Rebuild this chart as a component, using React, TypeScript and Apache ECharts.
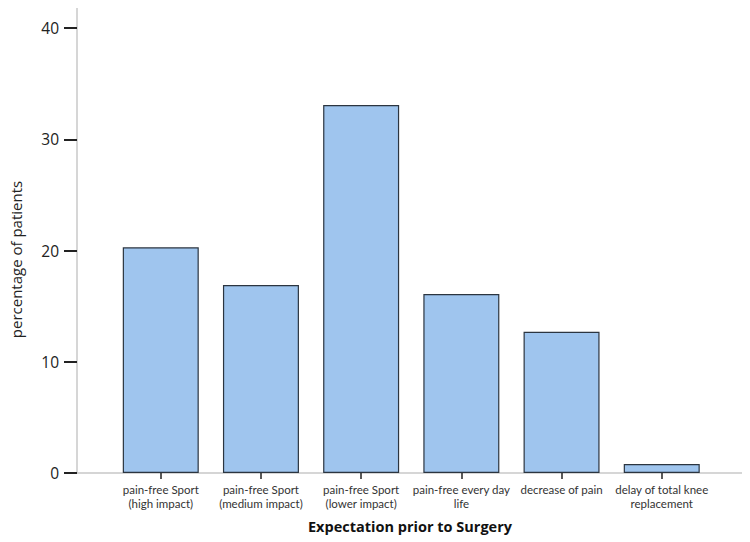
import React, { useEffect, useRef } from "react";
import * as echarts from "echarts";

const categories = [
  "pain-free Sport\n(high impact)",
  "pain-free Sport\n(medium impact)",
  "pain-free Sport\n(lower impact)",
  "pain-free every day\nlife",
  "decrease of pain",
  "delay of total knee\nreplacement",
];
const percentages = [20.3, 16.9, 33.1, 16.1, 12.7, 0.8];
const yTicks = [0, 10, 20, 30, 40];

export default function App() {
  const ref = useRef<HTMLDivElement>(null);
  useEffect(() => {
    if (!ref.current) return;
    const chart = echarts.init(ref.current, null, { renderer: "svg" });
    const catIdx = categories.map((_, i) => i);
    chart.setOption({
      animation: false,
      backgroundColor: "#ffffff",
      grid: { left: 75, right: 7, top: 6, bottom: 69, containLabel: false },
      xAxis: {
        type: "value",
        min: -0.836,
        max: 5.811,
        name: "Expectation prior to Surgery",
        nameLocation: "middle",
        nameGap: 46,
        nameTextStyle: { fontFamily: "Open Sans", fontWeight: "bold", fontSize: 14.5, color: "#111" },
        splitLine: { show: false },
        axisLine: { show: true, onZero: false, lineStyle: { color: "#c8c8c8", width: 1.5 } },
        axisTick: { show: true, customValues: catIdx, length: 6, lineStyle: { color: "#222", width: 1.5 } },
        axisLabel: {
          customValues: catIdx,
          formatter: (v: number) => categories[Math.round(v)] ?? "",
          fontFamily: "Lato",
          fontSize: 11.5,
          lineHeight: 14,
          color: "#333",
          margin: 9,
        },
      },
      yAxis: {
        type: "value",
        min: 0,
        max: 42,
        name: "percentage of patients",
        nameLocation: "middle",
        nameGap: 54,
        nameTextStyle: { fontFamily: "Open Sans", fontSize: 15, color: "#222", padding: [0, 40, 0, 0] },
        splitLine: { show: false },
        axisLine: { show: true, onZero: false, lineStyle: { color: "#c8c8c8", width: 1.5 } },
        axisTick: { show: true, customValues: yTicks, length: 13, lineStyle: { color: "#222", width: 2 } },
        axisLabel: {
          customValues: yTicks,
          fontFamily: "Open Sans",
          fontSize: 15.5,
          color: "#222",
          margin: 18,
        },
      },
      series: [
        {
          type: "bar",
          data: percentages.map((v, i) => [i, v]),
          barWidth: 76,
          itemStyle: { color: "#9fc5ee", borderColor: "#2b3540", borderWidth: 1.2 },
        },
      ],
    });
    return () => chart.dispose();
  }, []);
  return <div ref={ref} style={{ width: 750, height: 542, marginLeft: -8, marginTop: -8 }} />;
}
